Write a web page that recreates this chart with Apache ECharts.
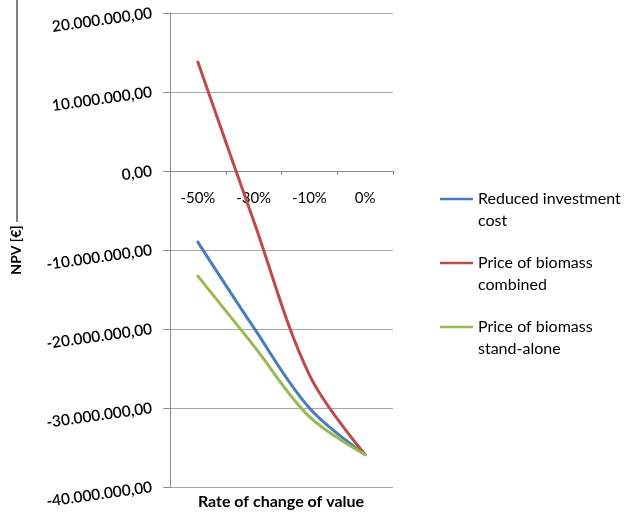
<!DOCTYPE html>
<html>
<head>
<meta charset="utf-8">
<script src="https://cdn.jsdelivr.net/npm/echarts@6/dist/echarts.min.js"></script>
<style>
html,body{margin:0;padding:0;background:#fff;}
#chart{width:635px;height:513px;}
</style>
</head>
<body>
<div id="chart"></div>
<script>
const categories = ['-50%', '-30%', '-10%', '0%'];
const reducedInvestmentCost = [-9000000, -19800000, -30000000, -35900000];
const priceBiomassCombined = [13800000, -6300000, -25800000, -35900000];
const priceBiomassStandAlone = [-13300000, -22100000, -31100000, -35900000];
const seriesNames = ['Reduced investment\ncost', 'Price of biomass\ncombined', 'Price of biomass\nstand-alone'];
const seriesColors = ['#4a7ebb', '#be4b48', '#98b954'];
const yTicks = { min: -40000000, max: 20000000, interval: 10000000 };

function fmt(v) {
  const parts = Math.abs(v).toFixed(2).split('.');
  const intPart = parts[0].replace(/\B(?=(\d{3})+(?!\d))/g, '.');
  return (v < 0 ? '-' : '') + intPart + ',' + parts[1];
}

const FONT = 'Lato';
const GRID_TOP = 13, GRID_BOTTOM = 26, H = 513;
// distance from grid bottom to the zero line, through the axis extent
const zeroOffset = (H - GRID_TOP - GRID_BOTTOM) * (0 - yTicks.min) / (yTicks.max - yTicks.min);

const chart = echarts.init(document.getElementById('chart'));
const dataSets = [reducedInvestmentCost, priceBiomassCombined, priceBiomassStandAlone];

const legendGraphics = [];
seriesNames.forEach(function (name, i) {
  const y = 199 + i * 64;
  legendGraphics.push({
    type: 'line', shape: { x1: 440, y1: y, x2: 473, y2: y },
    style: { stroke: seriesColors[i], lineWidth: 2.5 }
  });
  legendGraphics.push({
    type: 'text', x: 478, y: y - 11,
    style: { text: name, fill: '#000', font: '16px ' + FONT, lineHeight: 22, verticalAlign: 'top' }
  });
});

chart.setOption({
  animation: false,
  grid: { left: 170, right: 242, top: GRID_TOP, bottom: GRID_BOTTOM, containLabel: false, outerBoundsMode: 'none' },
  xAxis: {
    type: 'category',
    data: categories,
    boundaryGap: true,
    position: 'bottom',
    offset: -zeroOffset,
    axisLine: { onZero: false, lineStyle: { color: '#8c8c8c', width: 1 } },
    axisTick: { show: true, length: 4, lineStyle: { color: '#8c8c8c' } },
    axisLabel: { margin: 20, color: '#000', fontFamily: FONT, fontSize: 15 }
  },
  yAxis: {
    type: 'value',
    min: yTicks.min, max: yTicks.max, interval: yTicks.interval,
    name: 'NPV [€]',
    nameLocation: 'middle',
    nameGap: 147,
    nameRotate: 90,
    nameTextStyle: { color: '#000', fontFamily: FONT, fontSize: 14, fontWeight: 'bold' },
    axisLine: { show: true, lineStyle: { color: '#8c8c8c', width: 1 } },
    axisTick: { show: true, length: 7, lineStyle: { color: '#8c8c8c' } },
    axisLabel: { margin: 18, rotate: 8, color: '#000', fontFamily: FONT, fontSize: 15.5, fontWeight: 600, formatter: fmt },
    splitLine: { show: true, lineStyle: { color: '#a6a6a6', width: 1 } }
  },
  series: dataSets.map(function (d, i) {
    return {
      type: 'line', name: seriesNames[i], data: d,
      smooth: 0.35, symbol: 'none',
      lineStyle: { color: seriesColors[i], width: 3, cap: 'round' },
      itemStyle: { color: seriesColors[i] }
    };
  }),
  graphic: legendGraphics.concat([
    {
      type: 'text', x: 281, y: 502,
      style: { text: 'Rate of change of value', fill: '#000', font: 'bold 16px ' + FONT, align: 'center', verticalAlign: 'middle' }
    },
    {
      type: 'line', shape: { x1: 17, y1: 0, x2: 17, y2: 222 },
      style: { stroke: '#000', lineWidth: 1 }
    }
  ])
});
</script>
</body>
</html>
